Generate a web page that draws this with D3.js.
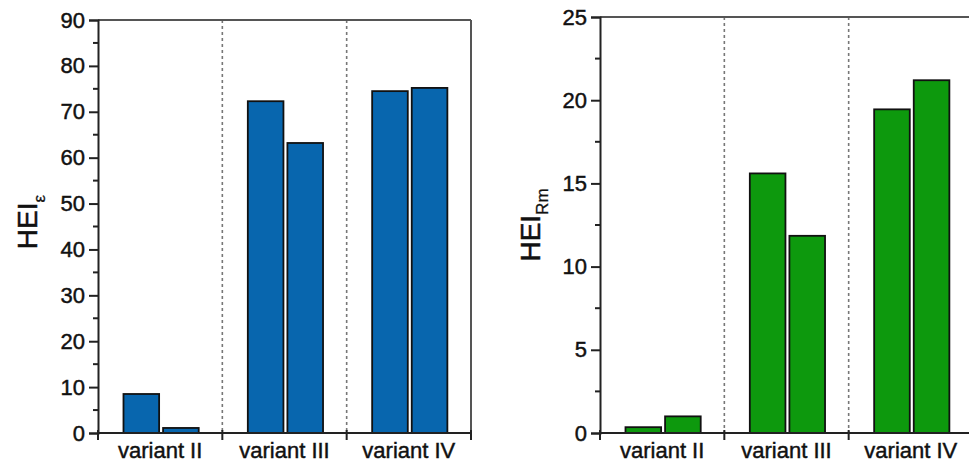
<!DOCTYPE html>
<html>
<head>
<meta charset="utf-8">
<script src="https://cdn.jsdelivr.net/npm/d3@7"></script>
<style>
  body { margin: 0; background: #fff; }
  svg text { font-family: "Liberation Sans", Arial, sans-serif; fill: #111; stroke: #111; stroke-width: 0.45px; }
</style>
</head>
<body>
<svg id="chart" width="969" height="466"></svg>
<script>
// data
const categories = ['variant II', 'variant III', 'variant IV'];
const heiEpsFirst  = [8.5, 72.3, 74.5];
const heiEpsSecond = [1.1, 63.2, 75.2];
const heiRmFirst   = [0.35, 15.6, 19.45];
const heiRmSecond  = [1.0, 11.85, 21.2];
const epsTicks = [0, 10, 20, 30, 40, 50, 60, 70, 80, 90];
const rmTicks  = [0, 5, 10, 15, 20, 25];

const svg = d3.select('#chart');

function drawPanel(opt) {
  const g = svg.append('g');

  const x = d3.scaleBand().domain(categories).range([opt.left, opt.right]).padding(0);
  const y = d3.scaleLinear().domain([0, opt.max]).range([opt.bottom, opt.top]);
  const sub = d3.scaleBand().domain([0, 1]).range([x.bandwidth() * 0.205, x.bandwidth() * 0.81]).paddingInner(0.1);

  // dotted separators between groups
  g.selectAll('.sep').data(categories.slice(1)).join('line')
    .attr('x1', d => x(d)).attr('x2', d => x(d))
    .attr('y1', opt.top).attr('y2', opt.bottom)
    .attr('stroke', '#777').attr('stroke-width', 1.6).attr('stroke-dasharray', '3,3');

  // bars
  const rows = categories.map((c, i) => ({ c, v: [opt.first[i], opt.second[i]] }));
  rows.forEach(r => {
    g.selectAll(null).data(r.v).join('rect')
      .attr('x', (d, j) => x(r.c) + sub(j))
      .attr('width', sub.bandwidth())
      .attr('y', d => y(d))
      .attr('height', d => y(0) - y(d))
      .attr('fill', opt.color)
      .attr('stroke', '#111').attr('stroke-width', 1.8);
  });

  // frame top/right
  g.append('line').attr('x1', opt.left).attr('x2', opt.right)
    .attr('y1', opt.top).attr('y2', opt.top)
    .attr('stroke', '#555').attr('stroke-width', 2);
  g.append('line').attr('x1', opt.right).attr('x2', opt.right)
    .attr('y1', opt.top).attr('y2', opt.bottom)
    .attr('stroke', '#555').attr('stroke-width', 2);

  // y axis
  const yAxis = g.append('g').attr('transform', `translate(${opt.left},0)`)
    .call(d3.axisLeft(y).tickValues(opt.ticks).tickSize(9).tickPadding(4).tickFormat(d3.format('d')));
  yAxis.select('.domain').attr('stroke', '#222').attr('stroke-width', 2);
  yAxis.selectAll('.tick line').attr('stroke', '#222').attr('stroke-width', 2);
  yAxis.selectAll('text').style('font-size', '22px');

  // minor ticks
  const step = opt.ticks[1] - opt.ticks[0];
  const minors = opt.ticks.slice(0, -1).map(t => t + step / 2);
  g.selectAll('.minor').data(minors).join('line')
    .attr('x1', opt.left - 5).attr('x2', opt.left)
    .attr('y1', d => y(d)).attr('y2', d => y(d))
    .attr('stroke', '#222').attr('stroke-width', 2);

  // x axis
  g.append('line').attr('x1', opt.left).attr('x2', opt.right)
    .attr('y1', opt.bottom).attr('y2', opt.bottom)
    .attr('stroke', '#222').attr('stroke-width', 2);
  const bounds = categories.map(c => x(c)).concat([opt.right]);
  g.selectAll('.xtick').data(bounds).join('line')
    .attr('x1', d => d).attr('x2', d => d)
    .attr('y1', opt.bottom - 3).attr('y2', opt.bottom + 7)
    .attr('stroke', '#222').attr('stroke-width', 2);
  g.selectAll('.xlab').data(categories).join('text')
    .attr('x', d => x(d) + x.bandwidth() * 0.5)
    .attr('y', opt.bottom + 25)
    .attr('text-anchor', 'middle')
    .style('font-size', '22px')
    .text(d => d);

  // y title with subscript
  const title = g.append('text')
    .attr('transform', `translate(${opt.titleX},${opt.titleY}) rotate(-90)`)
    .attr('text-anchor', 'middle')
    .style('font-size', '28px');
  title.append('tspan').text('HEI');
  title.append('tspan').attr('dy', 8).style('font-size', '17px').style('stroke-width', '0.3px').text(opt.subscript);
}

drawPanel({
  left: 98, right: 471, top: 20, bottom: 433, max: 90,
  ticks: epsTicks, first: heiEpsFirst, second: heiEpsSecond,
  color: '#0866ae', subscript: 'ε', titleX: 37, titleY: 222
});

drawPanel({
  left: 600, right: 973, top: 17, bottom: 433, max: 25,
  ticks: rmTicks, first: heiRmFirst, second: heiRmSecond,
  color: '#0d990d', subscript: 'Rm', titleX: 540, titleY: 225
});
</script>
</body>
</html>
